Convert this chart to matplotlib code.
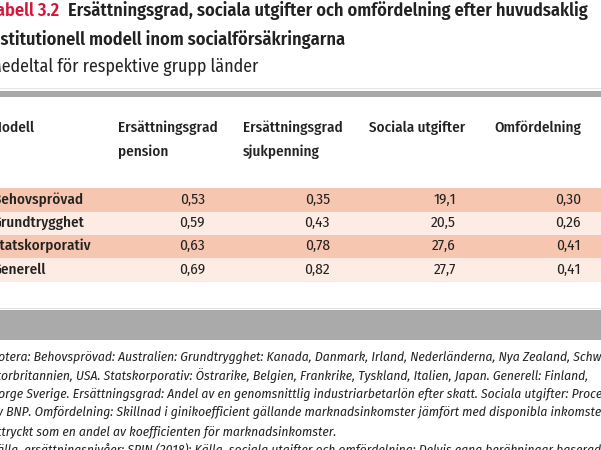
import matplotlib
matplotlib.use('Agg')
import matplotlib.pyplot as plt
from matplotlib import font_manager
from matplotlib.patches import Rectangle

# pick a condensed humanist sans if one is installed
installed = {f.name for f in font_manager.fontManager.ttflist}
FONT = 'DejaVu Sans'
for cand in ['Fira Sans Condensed', 'Fira Sans', 'Noto Sans']:
    if cand in installed:
        FONT = cand
        break
plt.rcParams['font.family'] = [FONT, 'DejaVu Sans']

title_label = 'Tabell 3.2'
title_lines = ['Ersättningsgrad, sociala utgifter och omfördelning efter huvudsaklig',
               'Institutionell modell inom socialförsäkringarna']
subtitle = 'Medeltal för respektive grupp länder'

headers = [['Modell'], ['Ersättningsgrad', 'pension'], ['Ersättningsgrad', 'sjukpenning'],
           ['Sociala utgifter'], ['Omfördelning']]
models = ['Behovsprövad', 'Grundtrygghet', 'Statskorporativ', 'Generell']
pension = ['0,53', '0,59', '0,63', '0,69']
sjukpenning = ['0,35', '0,43', '0,78', '0,82']
sociala = ['19,1', '20,5', '27,6', '27,7']
omfordelning = ['0,30', '0,26', '0,41', '0,41']

notes = [
    'Notera: Behovsprövad: Australien: Grundtrygghet: Kanada, Danmark, Irland, Nederländerna, Nya Zealand, Schweiz,',
    'Storbritannien, USA. Statskorporativ: Östrarike, Belgien, Frankrike, Tyskland, Italien, Japan. Generell: Finland,',
    'Norge Sverige. Ersättningsgrad: Andel av en genomsnittlig industriarbetarlön efter skatt. Sociala utgifter: Procent',
    'av BNP. Omfördelning: Skillnad i ginikoefficient gällande marknadsinkomster jämfört med disponibla inkomster,',
    'uttryckt som en andel av koefficienten för marknadsinkomster.',
    'Källa, ersättningsnivåer: SPIN (2018); Källa, sociala utgifter och omfördelning: Delvis egna beräkningar baserade',
]

W, H = 601, 450
fig = plt.figure(figsize=(W / 100, H / 100), dpi=100)
ax = fig.add_axes([0, 0, 1, 1])
ax.set_xlim(0, W)
ax.set_ylim(H, 0)
ax.axis('off')

dark = '#222222'
red = '#d5173f'
band_dark = '#f7c6b1'
band_light = '#fdece3'

# title block
ax.text(59.5, 11, title_label, color=red, fontsize=13.2, fontweight='semibold', ha='right', va='center')
ax.text(68, 11, title_lines[0], color=dark, fontsize=13.2, fontweight='semibold', ha='left', va='center')
ax.text(-14, 40, title_lines[1], color=dark, fontsize=13.2, fontweight='semibold', ha='left', va='center')
ax.text(-11, 67, subtitle, color=dark, fontsize=12.8, ha='left', va='center')

# top rules
ax.add_patch(Rectangle((0, 87.5), W, 1.5, color='#e6e6e6', lw=0))
ax.add_patch(Rectangle((0, 90.5), W, 6, color='#a9a9a9', lw=0))

# header
hx = [-9, 118, 243, 369, 494]
for x, h in zip(hx, headers):
    for j, part in enumerate(h):
        ax.text(x, 127.5 + j * 24, part, color=dark, fontsize=10.9, fontweight='medium',
                ha='left', va='center')

# body rows
row_top = 188.3
row_h = 23.35
cols = [pension, sjukpenning, sociala, omfordelning]
col_right = [205, 330, 456, 581]
for i, m in enumerate(models):
    y0 = row_top + i * row_h
    ax.add_patch(Rectangle((0, y0), W, row_h, color=band_dark if i % 2 == 0 else band_light, lw=0))
    yc = y0 + row_h / 2 - 0.5
    ax.text(-7.5, yc, m, color=dark, fontsize=10.9, fontweight='medium', ha='left', va='center')
    for xr, col in zip(col_right, cols):
        ax.text(xr, yc, col[i], color=dark, fontsize=11, ha='right', va='center')

# bottom rule
ax.add_patch(Rectangle((0, 307.5), W, 1.5, color='#e2e2e2', lw=0))
ax.add_patch(Rectangle((0, 309.5), W, 30.5, color='#aaaaaa', lw=0))

# notes
for k, line in enumerate(notes):
    ax.text(-9.5, 357 + k * 18.6, line, color=dark, fontsize=9.7, fontstyle='italic',
            ha='left', va='center')

fig.savefig('out.png', dpi=100)
